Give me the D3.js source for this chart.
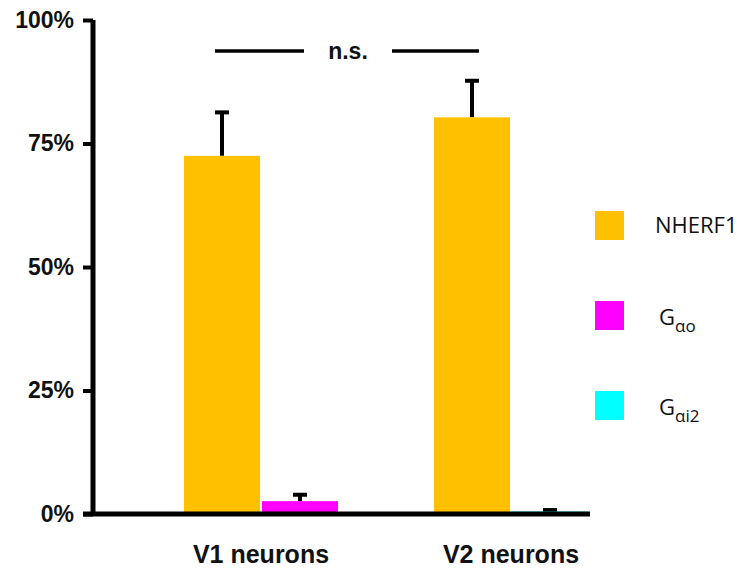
<!DOCTYPE html>
<html>
<head>
<meta charset="utf-8">
<script src="https://cdn.jsdelivr.net/npm/d3@7"></script>
<style>
  html, body { margin: 0; padding: 0; background: #fff; }
  svg { display: block; }
</style>
</head>
<body>
<svg id="chart" width="743" height="570"></svg>
<script>
// Fraction of neurons positive for each marker
const groups = ["V1 neurons", "V2 neurons"];
const nherf1Values = [72.5, 80.3];
const nherf1Errors = [8.8, 7.4];
// Second bar in each group: Gαo for V1, Gαi2 for V2
const gProteinKeys = ["Gao", "Gai2"];
const gProteinValues = [2.6, 0.5];
const gProteinErrors = [1.3, 0.3];
const yTicks = [0, 25, 50, 75, 100];
const legendKeys = ["NHERF1", "Gao", "Gai2"];
const colors = { NHERF1: "#FFC000", Gao: "#FF00FF", Gai2: "#00FFFF" };

const svg = d3.select("#chart");

const y = d3.scaleLinear().domain([0, 100]).range([514, 20]);

const x0 = d3.scaleBand()
  .domain(groups)
  .range([109, 663])
  .paddingInner(0.384)
  .paddingOuter(0.3);

const x1 = d3.scaleBand()
  .domain(["main", "g"])
  .range([0, x0.bandwidth()])
  .paddingInner(0.026);

// Build bar records from the arrays
const bars = [];
groups.forEach((g, i) => {
  bars.push({ group: g, slot: "main", key: "NHERF1", value: nherf1Values[i], err: nherf1Errors[i] });
  bars.push({ group: g, slot: "g", key: gProteinKeys[i], value: gProteinValues[i], err: gProteinErrors[i] });
});

// Error bars (drawn first so the bar body covers the lower whisker)
const errG = svg.append("g").attr("class", "errors");
bars.forEach(d => {
  const cx = x0(d.group) + x1(d.slot) + x1.bandwidth() / 2;
  errG.append("line")
    .attr("x1", cx).attr("x2", cx)
    .attr("y1", y(d.value)).attr("y2", y(d.value + d.err))
    .attr("stroke", "#000").attr("stroke-width", 4);
  errG.append("line")
    .attr("x1", cx - 7).attr("x2", cx + 7)
    .attr("y1", y(d.value + d.err)).attr("y2", y(d.value + d.err))
    .attr("stroke", "#000").attr("stroke-width", 4);
});

svg.append("g").attr("class", "bars")
  .selectAll("rect")
  .data(bars)
  .join("rect")
  .attr("x", d => x0(d.group) + x1(d.slot))
  .attr("y", d => y(d.value))
  .attr("width", x1.bandwidth())
  .attr("height", d => y(0) - y(d.value))
  .attr("fill", d => colors[d.key]);

// Y axis
const yAxis = d3.axisLeft(y)
  .tickValues(yTicks)
  .tickFormat(d => d + "%")
  .tickSize(10)
  .tickPadding(9);

const yg = svg.append("g")
  .attr("transform", "translate(93,0)")
  .call(yAxis);
yg.select(".domain")
  .attr("d", `M0,${y(100)}V${y(0)}`)
  .attr("stroke", "#000").attr("stroke-width", 5);
yg.selectAll(".tick line").attr("stroke", "#000").attr("stroke-width", 4);
yg.selectAll(".tick text")
  .attr("fill", "#111")
  .style("font-family", "'Liberation Sans', Arial, sans-serif")
  .style("font-weight", "bold")
  .style("font-size", "23px");

// X axis baseline and category labels
svg.append("line")
  .attr("x1", 83).attr("x2", 590)
  .attr("y1", y(0)).attr("y2", y(0))
  .attr("stroke", "#000").attr("stroke-width", 5);

svg.append("g").selectAll("text")
  .data(groups)
  .join("text")
  .attr("x", d => x0(d) + x0.bandwidth() / 2)
  .attr("y", 563)
  .attr("text-anchor", "middle")
  .attr("fill", "#111")
  .style("font-family", "'Liberation Sans', Arial, sans-serif")
  .style("font-weight", "bold")
  .style("font-size", "25px")
  .text(d => d);

// Significance annotation between the NHERF1 bars
const c1 = x0(groups[0]) + x1("main") + x1.bandwidth() / 2;
const c2 = x0(groups[1]) + x1("main") + x1.bandwidth() / 2;
const midX = (c1 + c2) / 2;
const sigY = 51;
svg.append("line")
  .attr("x1", c1 - 7).attr("x2", midX - 43)
  .attr("y1", sigY).attr("y2", sigY)
  .attr("stroke", "#000").attr("stroke-width", 3.5);
svg.append("line")
  .attr("x1", midX + 45).attr("x2", c2 + 7)
  .attr("y1", sigY).attr("y2", sigY)
  .attr("stroke", "#000").attr("stroke-width", 3.5);
svg.append("text")
  .attr("x", midX + 1).attr("y", sigY + 8)
  .attr("text-anchor", "middle")
  .attr("fill", "#111")
  .style("font-family", "'Liberation Sans', Arial, sans-serif")
  .style("font-weight", "bold")
  .style("font-size", "23px")
  .text("n.s.");

// Legend
const legendY = d3.scalePoint().domain(legendKeys).range([225, 405]);
const leg = svg.append("g").attr("class", "legend");
legendKeys.forEach(k => {
  const cy = legendY(k);
  leg.append("rect")
    .attr("x", 595).attr("y", cy - 14)
    .attr("width", 29).attr("height", 29)
    .attr("fill", colors[k]);
  const t = leg.append("text")
    .attr("y", cy + 9)
    .attr("fill", "#111")
    .style("font-family", "'Open Sans', 'Liberation Sans', sans-serif")
    .style("font-size", "22px");
  if (k === "NHERF1") {
    t.attr("x", 655).attr("y", cy + 8).text("NHERF1");
  } else {
    t.attr("x", 659).attr("y", cy + 10).text("G");
    t.append("tspan")
      .attr("dy", 7)
      .style("font-size", "17px")
      .text(k === "Gao" ? "\u03B1o" : "\u03B1i2");
  }
});
</script>
</body>
</html>
